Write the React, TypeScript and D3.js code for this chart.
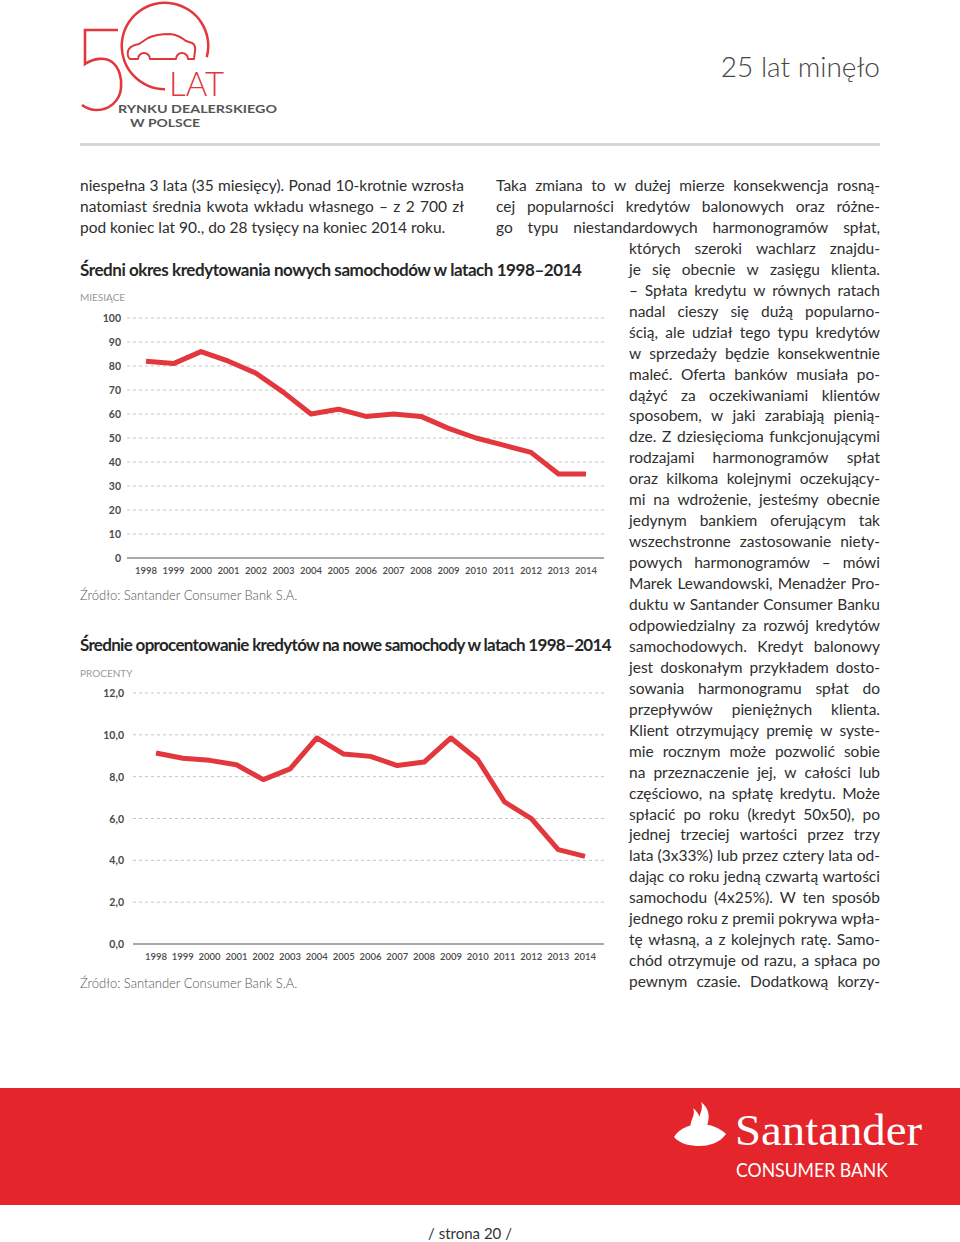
import React from 'react';
import * as d3 from 'd3';

const years = [1998, 1999, 2000, 2001, 2002, 2003, 2004, 2005, 2006, 2007, 2008, 2009, 2010, 2011, 2012, 2013, 2014];
const loanTermMonths = [82, 81, 86, 82, 77, 69, 60, 62, 59, 60, 59, 54, 50, 47, 44, 35, 35];
const interestRates = [9.13, 8.88, 8.78, 8.57, 7.86, 8.37, 9.85, 9.08, 8.97, 8.53, 8.7, 9.85, 8.81, 6.79, 5.99, 4.51, 4.19];
const termTicks = [0, 10, 20, 30, 40, 50, 60, 70, 80, 90, 100];
const rateTicks = [0, 2, 4, 6, 8, 10, 12];

const leftLines = [
  'niespełna 3 lata (35 miesięcy). Ponad 10-krotnie wzrosła',
  'natomiast średnia kwota wkładu własnego – z 2 700 zł',
  'pod koniec lat 90., do 28 tysięcy na koniec 2014 roku.',
];
const rightLines = [
  'Taka zmiana to w dużej mierze konsekwencja rosną-',
  'cej popularności kredytów balonowych oraz różne-',
  'go typu niestandardowych harmonogramów spłat,',
  'których szeroki wachlarz znajdu-',
  'je się obecnie w zasięgu klienta.',
  '– Spłata kredytu w równych ratach',
  'nadal cieszy się dużą popularno-',
  'ścią, ale udział tego typu kredytów',
  'w sprzedaży będzie konsekwentnie',
  'maleć. Oferta banków musiała po-',
  'dążyć za oczekiwaniami klientów',
  'sposobem, w jaki zarabiają pienią-',
  'dze. Z dziesięcioma funkcjonującymi',
  'rodzajami harmonogramów spłat',
  'oraz kilkoma kolejnymi oczekujący-',
  'mi na wdrożenie, jesteśmy obecnie',
  'jedynym bankiem oferującym tak',
  'wszechstronne zastosowanie niety-',
  'powych harmonogramów – mówi',
  'Marek Lewandowski, Menadżer Pro-',
  'duktu w Santander Consumer Banku',
  'odpowiedzialny za rozwój kredytów',
  'samochodowych. Kredyt balonowy',
  'jest doskonałym przykładem dosto-',
  'sowania harmonogramu spłat do',
  'przepływów pieniężnych klienta.',
  'Klient otrzymujący premię w syste-',
  'mie rocznym może pozwolić sobie',
  'na przeznaczenie jej, w całości lub',
  'częściowo, na spłatę kredytu. Może',
  'spłacić po roku (kredyt 50x50), po',
  'jednej trzeciej wartości przez trzy',
  'lata (3x33%) lub przez cztery lata od-',
  'dając co roku jedną czwartą wartości',
  'samochodu (4x25%). W ten sposób',
  'jednego roku z premii pokrywa wpła-',
  'tę własną, a z kolejnych ratę. Samo-',
  'chód otrzymuje od razu, a spłaca po',
  'pewnym czasie. Dodatkową korzy-',
];

const title1 = 'Średni okres kredytowania nowych samochodów w latach 1998–2014';
const title2 = 'Średnie oprocentowanie kredytów na nowe samochody w latach 1998–2014';

const FONT = 'Lato, "Open Sans", sans-serif';
const RED = '#e2373c';
const BAND = '#e4252b';
const TEXT = '#2e2e2e';

let ctx: CanvasRenderingContext2D | null = null;
function measure(t: string, font: string): number {
  if (!ctx) {
    const c = document.createElement('canvas');
    ctx = c.getContext('2d');
  }
  if (!ctx) return t.length * 7;
  ctx.font = font;
  return ctx.measureText(t).width;
}

function JLine({ x, y, width, text, size, justify }: { x: number; y: number; width: number; text: string; size: number; justify: boolean }) {
  if (!justify) {
    return (
      <text x={x} y={y} fontSize={size} fontFamily={FONT} fill={TEXT}>
        {text}
      </text>
    );
  }
  const font = `${size}px Lato`;
  const words = text.split(' ');
  const widths = words.map((w) => measure(w, font));
  const total = widths.reduce((a, b) => a + b, 0);
  const gap = words.length > 1 ? (width - total) / (words.length - 1) : 0;
  let cx = x;
  return (
    <text y={y} fontSize={size} fontFamily={FONT} fill={TEXT}>
      {words.map((w, i) => {
        const el = (
          <tspan key={i} x={cx}>
            {w}
          </tspan>
        );
        cx += widths[i] + gap;
        return el;
      })}
    </text>
  );
}

function FitTitle({ x, y, width, text }: { x: number; y: number; width: number; text: string }) {
  const size = 17;
  const natural = measure(text, `bold ${size}px Lato`);
  const ls = (width - natural) / (text.length - 1);
  return (
    <text x={x} y={y} fontSize={size} fontWeight={700} fontFamily={FONT} fill="#262626" letterSpacing={ls}>
      {text}
    </text>
  );
}

type ChartProps = {
  values: number[];
  ticks: number[];
  domainMax: number;
  yTop: number;
  yBottom: number;
  gridLeft: number;
  labelRight: number;
  xStart: number;
  xEnd: number;
  fmt: (v: number) => string;
};

function LineChart({ values, ticks, domainMax, yTop, yBottom, gridLeft, labelRight, xStart, xEnd, fmt }: ChartProps) {
  const x = d3.scaleLinear().domain([years[0], years[years.length - 1]]).range([xStart, xEnd]);
  const y = d3.scaleLinear().domain([0, domainMax]).range([yBottom, yTop]);
  const line = d3
    .line<number>()
    .x((_, i) => x(years[i]))
    .y((d) => y(d));
  return (
    <g>
      {ticks.map((t) => (
        <g key={t}>
          {t !== 0 && (
            <line x1={gridLeft} x2={604} y1={y(t)} y2={y(t)} stroke="#bdbdbd" strokeWidth={0.9} strokeDasharray="3,3" />
          )}
          <text x={labelRight} y={y(t) + 4} textAnchor="end" fontSize={10.5} fontWeight={700} fontFamily={FONT} fill="#4a4a4a">
            {fmt(t)}
          </text>
        </g>
      ))}
      <line x1={gridLeft} x2={604} y1={y(0)} y2={y(0)} stroke="#8c8c8c" strokeWidth={1.6} />
      {years.map((yr) => (
        <text key={yr} x={x(yr)} y={y(0) + 16} textAnchor="middle" fontSize={9.5} fontWeight={600} fontFamily={FONT} fill="#4a4a4a">
          {yr}
        </text>
      ))}
      <path d={line(values) || ''} fill="none" stroke={RED} strokeWidth={5} strokeLinejoin="round" />
    </g>
  );
}

export default function App() {
  const ringArc = d3.arc()({
    innerRadius: 42,
    outerRadius: 44.5,
    startAngle: (180 * Math.PI) / 180,
    endAngle: (465 * Math.PI) / 180,
  } as any) as string;

  return (
    <svg width={960} height={1242} style={{ position: 'absolute', left: 0, top: 0, background: '#fff' }}>
      <rect x={0} y={0} width={960} height={1242} fill="#fff" />
      {/* Logo */}
      <g>
        <path
          d="M118,30 H85 V64 C94,58 105,57 112,62 C120,68 122,80 121,88 C120,101 109,110 97,110 C91,110 86,108 82,105"
          fill="none"
          stroke={RED}
          strokeWidth={2.6}
        />
        <path d={ringArc} transform="translate(165,46)" fill={RED} />
        <path
          d="M128,51 Q129,46 139,44 L148,38 Q156,34 170,34 Q179,35 186,41 L192,43 Q196,45 195,51 L194,59 L188,59 A6,6 0 0 0 176,59 L150,59 A6,6 0 0 0 138,59 L130,59 Q127,57 128,51 Z"
          fill="none"
          stroke={RED}
          strokeWidth={2}
          strokeLinejoin="round"
        />
        <text x={169} y={96} fontSize={34} fontWeight={300} fontFamily={FONT} fill={RED} textLength={55} lengthAdjust="spacingAndGlyphs">
          LAT
        </text>
        <text x={118} y={113} fontSize={12} fontWeight={700} fontFamily={FONT} fill="#555" textLength={159} lengthAdjust="spacingAndGlyphs">
          RYNKU DEALERSKIEGO
        </text>
        <text x={130} y={127} fontSize={12} fontWeight={700} fontFamily={FONT} fill="#555" textLength={70} lengthAdjust="spacingAndGlyphs">
          W POLSCE
        </text>
      </g>
      <text x={880} y={77} textAnchor="end" fontSize={28} fontWeight={300} fontFamily={FONT} fill="#444">
        25 lat minęło
      </text>
      <rect x={80} y={143} width={800} height={3} fill="#d6d6d6" />

      {/* Left paragraph */}
      {leftLines.map((t, i) => (
        <JLine key={i} x={80} y={191 + i * 21} width={384} text={t} size={15.5} justify={i < leftLines.length - 1} />
      ))}
      {/* Right column */}
      {rightLines.map((t, i) => (
        <JLine
          key={i}
          x={i < 3 ? 496 : 629}
          y={191 + i * 20.95}
          width={i < 3 ? 384 : 251}
          text={t}
          size={15.5}
          justify={true}
        />
      ))}

      {/* Chart 1 */}
      <FitTitle x={80} y={276} width={503} text={title1} />
      <text x={80} y={301} fontSize={10} fontFamily={FONT} fill="#9a9a9a">
        MIESIĄCE
      </text>
      <LineChart
        values={loanTermMonths}
        ticks={termTicks}
        domainMax={100}
        yTop={318}
        yBottom={558}
        gridLeft={127}
        labelRight={121}
        xStart={146}
        xEnd={586}
        fmt={(v) => String(v)}
      />
      <text x={80} y={600} fontSize={13} fontWeight={300} fontFamily={FONT} fill="#555">
        Źródło: Santander Consumer Bank S.A.
      </text>

      {/* Chart 2 */}
      <FitTitle x={80} y={651} width={533} text={title2} />
      <text x={80} y={677} fontSize={10} fontFamily={FONT} fill="#9a9a9a">
        PROCENTY
      </text>
      <LineChart
        values={interestRates}
        ticks={rateTicks}
        domainMax={12}
        yTop={693}
        yBottom={944}
        gridLeft={133}
        labelRight={124}
        xStart={156}
        xEnd={585}
        fmt={(v) => d3.format('.1f')(v).replace('.', ',')}
      />
      <text x={80} y={988} fontSize={13} fontWeight={300} fontFamily={FONT} fill="#555">
        Źródło: Santander Consumer Bank S.A.
      </text>

      {/* Santander band */}
      <rect x={0} y={1088} width={960} height={117} fill={BAND} />
      <g fill="#fff">
        <path d="M674,1137 C680,1127 693,1124 700,1124 C710,1124 720,1128 726,1134 C720,1143 708,1146 700,1146 C690,1146 680,1144 674,1137 Z" />
        <path d="M693,1131 C686,1123 697,1117 693,1108 C700,1114 703,1121 698,1131 Z" />
        <path d="M701,1128 C694,1119 705,1112 701,1102 C709,1108 711,1117 706,1128 Z" />
      </g>
      <text x={735} y={1145} fontSize={44} fontFamily='"Liberation Serif", "DejaVu Serif", serif' fill="#fff" textLength={187} lengthAdjust="spacingAndGlyphs">
        Santander
      </text>
      <text x={736} y={1177} fontSize={18.5} fontFamily={FONT} fill="#fff" textLength={152} lengthAdjust="spacingAndGlyphs">
        CONSUMER BANK
      </text>

      <text x={470} y={1239} textAnchor="middle" fontSize={15} fontFamily={FONT} fill="#333">
        / strona 20 /
      </text>
    </svg>
  );
}
